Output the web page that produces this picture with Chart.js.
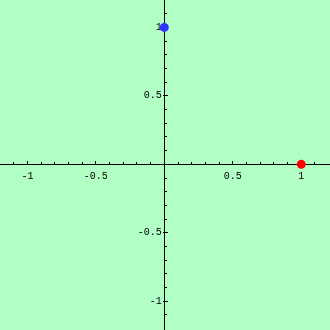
<!DOCTYPE html>
<html>
<head>
<meta charset="utf-8">
<script src="https://cdn.jsdelivr.net/npm/chart.js@4"></script>
<style>
  html, body { margin: 0; padding: 0; background: #b2ffc6; }
  #wrap { width: 330px; height: 330px; background: #b2ffc6; }
</style>
</head>
<body>
<div id="wrap"><canvas id="chart" width="330" height="330"></canvas></div>
<script>
// points
const pointX = [0, 1];
const pointY = [1, 0];

// ticks
const xTicks = [-1, -0.5, 0.5, 1];
const xTickLabels = ['-1', '-0.5', '0.5', '1'];
const yTicks = [-1, -0.5, 0.5, 1];
const yTickLabels = ['-1', '-0.5', '0.5', '1'];
const minorTicks = [-1.1, -0.9, -0.8, -0.7, -0.6, -0.4, -0.3, -0.2, -0.1,
  0.1, 0.2, 0.3, 0.4, 0.6, 0.7, 0.8, 0.9, 1.1];

// little tick marks on the inner side of both axes
const tickMarks = {
  id: 'tickMarks',
  beforeDatasetsDraw(chart) {
    const ctx = chart.ctx;
    const xs = chart.scales.x, ys = chart.scales.y;
    const ox = Math.round(xs.getPixelForValue(0) - 0.5);
    const oy = Math.round(ys.getPixelForValue(0) - 0.5);
    ctx.save();
    ctx.fillStyle = '#000';
    xTicks.forEach(v => {
      const px = Math.round(xs.getPixelForValue(v) - 0.5);
      ctx.fillRect(px, oy - 3, 1, 3);
    });
    minorTicks.forEach(v => {
      const px = Math.round(xs.getPixelForValue(v) - 0.5);
      ctx.fillRect(px, oy - 2, 1, 2);
    });
    yTicks.forEach(v => {
      const py = Math.round(ys.getPixelForValue(v) - 0.5);
      ctx.fillRect(ox - 1, py, 5, 1);
    });
    minorTicks.forEach(v => {
      const py = Math.round(ys.getPixelForValue(v) - 0.5);
      ctx.fillRect(ox + 1, py, 2, 1);
    });
    ctx.restore();
  }
};

// centred axes should not push the plot area in
function noPadding(axis) {
  axis.paddingLeft = 0;
  axis.paddingRight = 0;
  axis.paddingTop = 0;
  axis.paddingBottom = 0;
}

const tickFont = { family: "'Liberation Mono', 'DejaVu Sans', monospace", size: 10 };

new Chart(document.getElementById('chart').getContext('2d'), {
  type: 'scatter',
  data: {
    datasets: [{
      data: pointX.map((x, i) => ({ x: x, y: pointY[i] })),
      backgroundColor: ['#3333ff', '#ff0000'],
      borderWidth: 0,
      pointRadius: 4.5,
      pointHoverRadius: 4.5
    }]
  },
  options: {
    responsive: false,
    animation: false,
    layout: { padding: 0, autoPadding: false },
    plugins: { legend: { display: false }, tooltip: { enabled: false } },
    scales: {
      x: {
        type: 'linear',
        min: -1.2,
        max: 1.21,
        position: { y: 0 },
        afterBuildTicks: axis => { axis.ticks = xTicks.map(v => ({ value: v })); },
        afterFit: noPadding,
        grid: { drawOnChartArea: false, drawTicks: false },
        border: { display: true, color: '#000', width: 1 },
        ticks: {
          autoSkip: false,
          maxRotation: 0,
          padding: 6,
          color: '#000',
          font: tickFont,
          callback: (v, i) => xTickLabels[i]
        }
      },
      y: {
        type: 'linear',
        min: -1.21,
        max: 1.2,
        position: { x: 0 },
        afterBuildTicks: axis => { axis.ticks = yTicks.map(v => ({ value: v })); },
        afterFit: noPadding,
        grid: { drawOnChartArea: false, drawTicks: false },
        border: { display: true, color: '#000', width: 1 },
        ticks: {
          autoSkip: false,
          color: '#000',
          font: tickFont,
          // positioned y axes ignore ticks.padding, so keep a gap with a narrow space
          callback: (v, i) => yTickLabels[i] + '\u2005'
        }
      }
    }
  },
  plugins: [tickMarks]
});
</script>
</body>
</html>
